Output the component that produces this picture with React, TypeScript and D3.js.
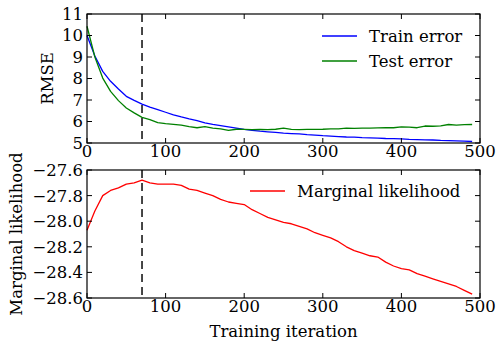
import React from 'react';
import * as d3 from 'd3';

// training iterations (x), sampled every 10 steps
const iterations = [
  0, 10, 20, 30, 40, 50, 60, 70, 80, 90,
  100, 110, 120, 130, 140, 150, 160, 170, 180, 190,
  200, 210, 220, 230, 240, 250, 260, 270, 280, 290,
  300, 310, 320, 330, 340, 350, 360, 370, 380, 390,
  400, 410, 420, 430, 440, 450, 460, 470, 480, 490,
];

const trainError = [
  10.0, 9.05, 8.33, 7.87, 7.51, 7.17, 6.98, 6.81, 6.67, 6.55,
  6.43, 6.31, 6.21, 6.12, 6.04, 5.94, 5.87, 5.81, 5.75, 5.69,
  5.63, 5.59, 5.55, 5.52, 5.49, 5.46, 5.44, 5.42, 5.39, 5.37,
  5.34, 5.32, 5.3, 5.28, 5.27, 5.25, 5.24, 5.23, 5.21, 5.2,
  5.19, 5.17, 5.16, 5.15, 5.14, 5.12, 5.11, 5.1, 5.09, 5.07,
];

const testError = [
  10.43, 9.0, 8.02, 7.4, 6.97, 6.63, 6.4, 6.19, 6.09, 5.95,
  5.9, 5.87, 5.83, 5.76, 5.71, 5.76, 5.69, 5.66, 5.59, 5.64,
  5.63, 5.62, 5.63, 5.62, 5.64, 5.69, 5.63, 5.62, 5.63, 5.63,
  5.64, 5.66, 5.66, 5.69, 5.68, 5.69, 5.69, 5.7, 5.71, 5.71,
  5.75, 5.74, 5.71, 5.79, 5.78, 5.8, 5.86, 5.83, 5.85, 5.86,
];

const marginalLik = [
  -28.07, -27.92, -27.8, -27.76, -27.74, -27.71, -27.7, -27.68, -27.7, -27.71,
  -27.71, -27.71, -27.72, -27.75, -27.76, -27.78, -27.8, -27.83, -27.85, -27.86,
  -27.87, -27.91, -27.94, -27.97, -27.99, -28.01, -28.02, -28.04, -28.06, -28.09,
  -28.11, -28.13, -28.16, -28.2, -28.23, -28.25, -28.27, -28.28, -28.32, -28.35,
  -28.37, -28.38, -28.41, -28.43, -28.45, -28.47, -28.49, -28.51, -28.54, -28.57,
];

const bestIteration = 70;
const xTicks = [0, 100, 200, 300, 400, 500];
const rmseTicks = [5, 6, 7, 8, 9, 10, 11];
const likTicks = [-28.6, -28.4, -28.2, -28.0, -27.8, -27.6];

const textStyle = { fontFamily: 'DejaVu Serif', fontSize: 16.5 };
const TICK = 5;
const left = 87, right = 480;
const x = d3.scaleLinear().domain([0, 500]).range([left, right]);

const panels = [
  {
    top: 14, bottom: 143, domain: [5, 11], ticks: rmseTicks, fmt: d3.format('d'),
    label: 'RMSE', labelX: 53,
    series: [
      { name: 'Train error', values: trainError, color: '#0000ff' },
      { name: 'Test error', values: testError, color: '#008000' },
    ],
    legendX: 322, legendY: 36,
  },
  {
    top: 170, bottom: 298, domain: [-28.6, -27.6], ticks: likTicks, fmt: d3.format('.1f'),
    label: 'Marginal likelihood', labelX: 21.5,
    series: [{ name: 'Marginal likelihood', values: marginalLik, color: '#ff0000' }],
    legendX: 250, legendY: 191,
  },
];

const Panel = ({ p }: { p: typeof panels[number] }) => {
  const y = d3.scaleLinear().domain(p.domain).range([p.bottom, p.top]);
  const line = d3.line<number>().x((_, i) => x(iterations[i])).y(d => y(d));
  const fmtX = d3.format('d');

  return (
    <g>
      <line x1={x(bestIteration)} x2={x(bestIteration)} y1={p.top} y2={p.bottom}
        stroke="#333" strokeWidth={1.8} strokeDasharray="8,5" />

      {p.series.map(s => (
        <path key={s.name} d={line(s.values) || ''} fill="none" stroke={s.color}
          strokeWidth={1.3} strokeLinejoin="round" />
      ))}

      {/* inward ticks on all four sides */}
      {xTicks.map(t => (
        <g key={'x' + t}>
          <line x1={x(t)} x2={x(t)} y1={p.bottom} y2={p.bottom - TICK} stroke="#000" />
          <line x1={x(t)} x2={x(t)} y1={p.top} y2={p.top + TICK} stroke="#000" />
          <text x={x(t)} y={p.bottom + 14} textAnchor="middle" style={textStyle}>{fmtX(t)}</text>
        </g>
      ))}
      {p.ticks.map(t => (
        <g key={'y' + t}>
          <line x1={left} x2={left + TICK} y1={y(t)} y2={y(t)} stroke="#000" />
          <line x1={right} x2={right - TICK} y1={y(t)} y2={y(t)} stroke="#000" />
          <text x={left - 4} y={y(t)} dy="0.36em" textAnchor="end" style={textStyle}>{p.fmt(t)}</text>
        </g>
      ))}

      <rect x={left} y={p.top} width={right - left} height={p.bottom - p.top}
        fill="none" stroke="#000" strokeWidth={1.2} />

      <text transform={`translate(${p.labelX},${(p.top + p.bottom) / 2}) rotate(-90)`}
        textAnchor="middle" style={textStyle}>{p.label}</text>

      {/* legend, no frame */}
      {p.series.map((s, i) => {
        const ly = p.legendY + i * 25;
        return (
          <g key={'lg' + s.name}>
            <line x1={p.legendX} x2={p.legendX + 35} y1={ly} y2={ly} stroke={s.color} strokeWidth={1.3} />
            <text x={p.legendX + 47} y={ly} dy="0.36em" style={textStyle}>{s.name}</text>
          </g>
        );
      })}
    </g>
  );
};

const App = () => (
  <svg width={496} height={345}
    style={{ position: 'absolute', left: 0, top: 0, background: '#fff' }}>
    {panels.map(p => <Panel key={p.label} p={p} />)}
    <text x={(left + right) / 2} y={337} textAnchor="middle" style={textStyle}>Training iteration</text>
  </svg>
);

export default App;
